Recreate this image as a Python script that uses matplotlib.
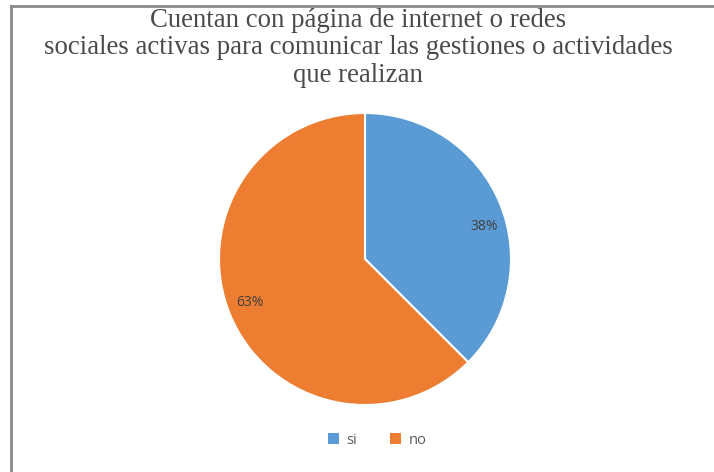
import matplotlib
matplotlib.use("Agg")
import matplotlib.pyplot as plt
from matplotlib.lines import Line2D
from matplotlib.patches import Patch

categories = ["si", "no"]
values = [37.5, 62.5]
pct_labels = ["38%", "63%"]
colors = ["#5B9BD5", "#ED7D31"]
title = ("Cuentan con página de internet o redes\n"
         "sociales activas para comunicar las gestiones o actividades\n"
         "que realizan")

fig = plt.figure(figsize=(7.14, 4.72), dpi=100)
fig.patch.set_facecolor("white")

# frame lines (left and top)
fig.add_artist(Line2D([11/714, 11/714], [0, 1 - 6/472], transform=fig.transFigure,
                      color="#8a8a8a", lw=2))
fig.add_artist(Line2D([11/714, 1], [1 - 6/472, 1 - 6/472], transform=fig.transFigure,
                      color="#8a8a8a", lw=2))

ax = fig.add_axes([219/714, 1 - 405/472, 292/714, 292/472])
wedges, texts, autotexts = ax.pie(
    values, colors=colors, startangle=90, counterclock=False,
    autopct="%1.0f%%", pctdistance=0.85,
    wedgeprops=dict(edgecolor="white", linewidth=1.5),
    textprops=dict(color="#404040", fontsize=10, family="Open Sans"))
for t, lab in zip(autotexts, pct_labels):
    t.set_text(lab)
autotexts[0].set_position((0.815, 0.226))
autotexts[1].set_position((-0.788, -0.301))
ax.set_xlim(-1, 1)
ax.set_ylim(-1, 1)
ax.set_aspect("equal")
ax.axis("off")

fig.text(358/714, 1 - 48/472, title, ha="center", va="center",
         family="Liberation Serif", fontsize=19.3, color="#4a4a4a",
         linespacing=1.12)

handles = [Patch(facecolor=c, edgecolor="none") for c in colors]
fig.legend(handles, categories, loc="center", bbox_to_anchor=(377/714, 1 - 440/472),
           ncol=2, frameon=False, handlelength=0.75, handleheight=0.75,
           handletextpad=0.5, columnspacing=2.3,
           prop=dict(family="Open Sans", size=10.5), labelcolor="#595959")

fig.savefig("out.png", dpi=100, facecolor="white")
